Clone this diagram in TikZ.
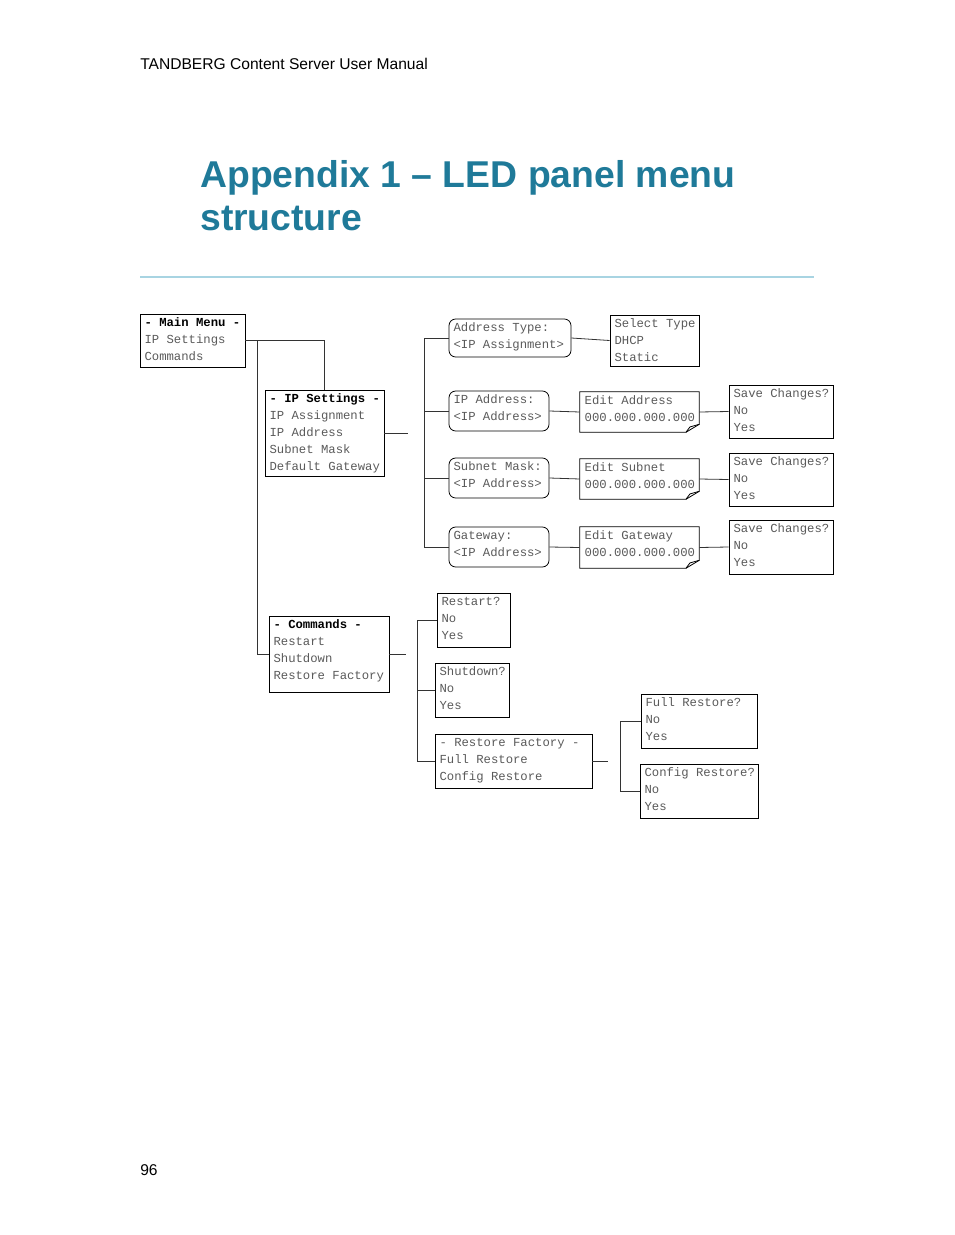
\documentclass[tikz,border=0pt]{standalone}
\usepackage{fontspec}
\setmainfont{Liberation Sans}
\newfontfamily\lcd{Liberation Mono}
\usetikzlibrary{fit}
\definecolor{titleblue}{HTML}{1F7A99}
\definecolor{rulecol}{HTML}{A8D4E2}
\definecolor{lcdgray}{HTML}{5A5A5A}
\tikzset{
  menubox/.style={draw, semithick, inner sep=0pt},
  roundbox/.style={draw, semithick, rounded corners=5pt, inner sep=0pt},
  lcdtext/.style={anchor=north west, inner sep=0pt, align=left, text=lcdgray,
    font=\lcd\fontsize{9.2}{12.75}\selectfont},
  branch/.style={semithick, draw=black!80}
}
% box from corner to corner with text inside
\newcommand{\menu}[5][menubox]{%
  \node[#1, fit={#3 #4}] (#2) {};
  \node[lcdtext] at ([xshift=3.5,yshift=-3]#2.north west) {#5};}
\newcommand{\hd}[1]{\textcolor{black}{\bfseries #1}}
\begin{document}
\begin{tikzpicture}[x=0.75pt,y=-0.75pt]
  \useasboundingbox (0,0) rectangle (954,1235);

  % page head
  \node[anchor=base west, inner sep=0pt, font=\fontsize{11.7}{14}\selectfont] (head) at (140,69) {TANDBERG Content Server User Manual};
  \node[anchor=north west, inner sep=0pt, align=left, text=titleblue,
    font=\bfseries\fontsize{28}{32.5}\selectfont] (title) at (200,160)
    {Appendix 1 -- LED panel menu\\structure};
  \draw[rulecol, line width=0.9pt] (140,277) -- (814,277);
  \node[anchor=base west, inner sep=0pt, font=\fontsize{11.7}{14}\selectfont] (page) at (140,1175) {96};

  % first levels
  \menu{main}{(140,314)}{(245,367)}{\hd{- Main Menu -}\\IP Settings\\Commands}
  \menu{ipset}{(265,390)}{(384,476)}{\hd{- IP Settings -}\\IP Assignment\\IP Address\\Subnet Mask\\Default Gateway}
  \menu{cmds}{(269,616)}{(389,692)}{\hd{- Commands -}\\Restart\\Shutdown\\Restore Factory}

  % IP settings entries
  \menu[roundbox]{addr}{(449,319)}{(571,357)}{Address Type:\\<IP Assignment>}
  \menu{seltype}{(610,315)}{(699,366)}{Select Type\\DHCP\\Static}
  \menu[roundbox]{ipaddr}{(449,391)}{(549,431)}{IP Address:\\<IP Address>}
  \menu[inner sep=0pt]{editaddr}{(580,392)}{(699,432)}{Edit Address\\000.000.000.000}
  \menu{saveaddr}{(729,385)}{(833,438)}{Save Changes?\\No\\Yes}
  \menu[roundbox]{subnet}{(449,458)}{(549,498)}{Subnet Mask:\\<IP Address>}
  \menu[inner sep=0pt]{editsub}{(580,459)}{(699,499)}{Edit Subnet\\000.000.000.000}
  \menu{savesub}{(729,453)}{(833,506)}{Save Changes?\\No\\Yes}
  \menu[roundbox]{gw}{(449,527)}{(549,567)}{Gateway:\\<IP Address>}
  \menu[inner sep=0pt]{editgw}{(580,527)}{(699,568)}{Edit Gateway\\000.000.000.000}
  \menu{savegw}{(729,520)}{(833,574)}{Save Changes?\\No\\Yes}

  % edit boxes with folded corner
  \foreach \n in {editaddr,editsub,editgw}{
    \draw[semithick] (\n.north west) -- (\n.north east) -- ([yshift=6]\n.south east)
      -- ([xshift=-10]\n.south east) -- (\n.south west) -- cycle;
    \draw[semithick] ([xshift=-10]\n.south east) -- ([xshift=-7,yshift=4]\n.south east)
      -- ([yshift=6]\n.south east);
  }

  % command entries
  \menu{restart}{(437,593)}{(510,647)}{Restart?\\No\\Yes}
  \menu{shutdown}{(435,663)}{(509,717)}{Shutdown?\\No\\Yes}
  \menu{restore}{(435,734)}{(592,788)}{- Restore Factory -\\Full Restore\\Config Restore}
  \menu{full}{(641,694)}{(757,748)}{Full Restore?\\No\\Yes}
  \menu{config}{(640,764)}{(758,818)}{Config Restore?\\No\\Yes}

  % branches
  \draw[branch] (main.east) -| (ipset.north);
  \draw[branch] ([xshift=9]main.east) |- (cmds.west);
  \draw[branch] (ipset.east) -- ++(24,0);
  \draw[branch] (addr.west) -- ++(-24,0) |- (gw.west);
  \draw[branch] (ipaddr.west) -- ++(-24,0);
  \draw[branch] (subnet.west) -- ++(-24,0);
  \draw[branch] (addr.east) -- (seltype.west);
  \draw[branch] (ipaddr.east) -- (editaddr.west);
  \draw[branch] (editaddr.east) -- (saveaddr.west);
  \draw[branch] (subnet.east) -- (editsub.west);
  \draw[branch] (editsub.east) -- (savesub.west);
  \draw[branch] (gw.east) -- (editgw.west);
  \draw[branch] (editgw.east) -- (savegw.west);
  \draw[branch] (cmds.east) -- ++(17,0);
  \draw[branch] (restart.west) -- ++(-19,0) |- (restore.west);
  \draw[branch] (shutdown.west) -- ++(-17,0);
  \draw[branch] (restore.east) -- ++(16,0);
  \draw[branch] (full.west) -- ++(-20,0) |- (config.west);
\end{tikzpicture}
\end{document}
